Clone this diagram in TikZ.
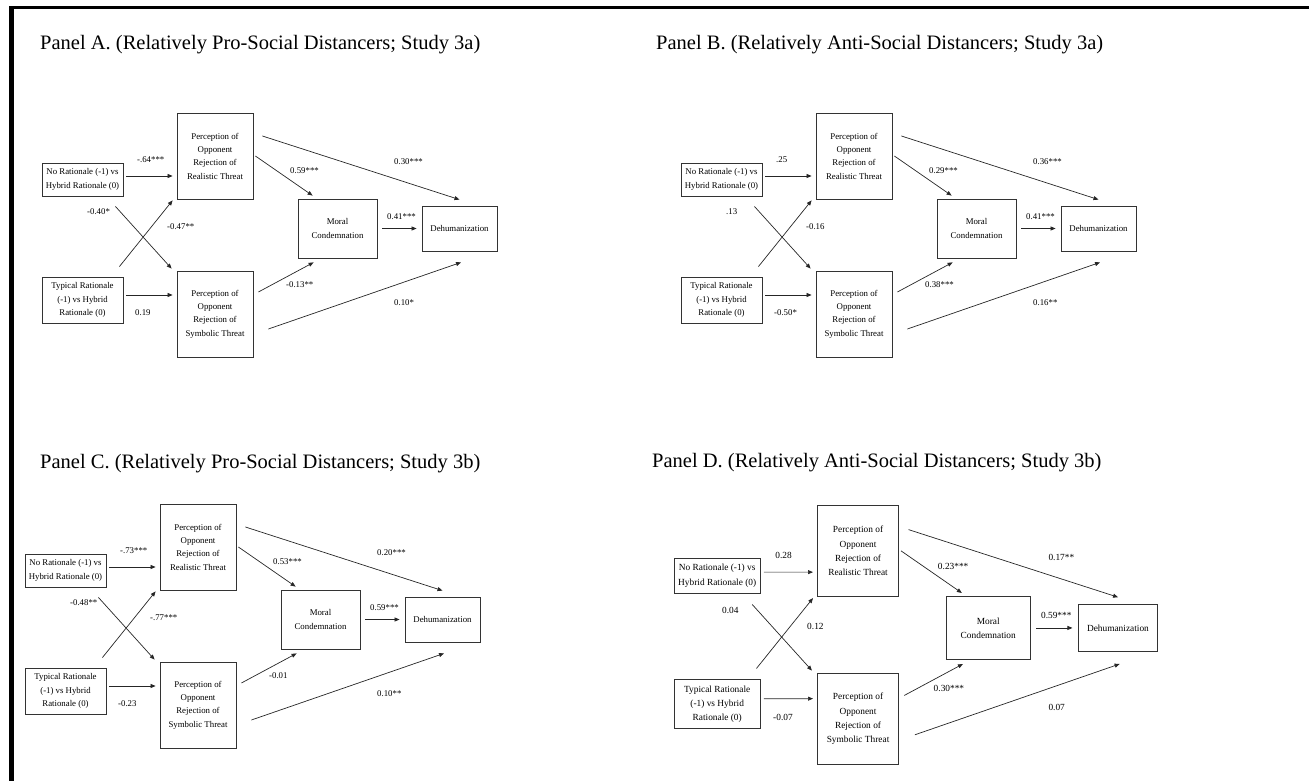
\documentclass[tikz,border=0pt]{standalone}
\usepackage{fontspec}
\setmainfont{Liberation Serif}
\usetikzlibrary{arrows.meta}
\tikzset{
  box/.style={draw=black!80, line width=0.8pt, inner sep=0pt, align=center,
    font=\fontsize{8.8}{13.3}\selectfont},
  lab/.style={anchor=west, inner sep=0pt, font=\fontsize{8.8}{10}\selectfont},
  arr/.style={draw=black!85, line width=0.7pt, -{Triangle[length=5pt,width=4pt]}},
  ttl/.style={anchor=base west, inner sep=0pt, font=\fontsize{20.5}{24}\selectfont}
}
\newcommand\mypanel[9]{%
  \node[box, minimum width=81pt, minimum height=33pt] (\pf-no) at (82.5,179.5) {No Rationale (-1) vs\\Hybrid Rationale (0)};
  \node[box, minimum width=81pt, minimum height=46pt] (\pf-ty) at (82.5,300) {Typical Rationale\\(-1) vs Hybrid\\Rationale (0)};
  \node[box, minimum width=76pt, minimum height=86pt] (\pf-re) at (215,156) {Perception of\\Opponent\\Rejection of\\Realistic Threat};
  \node[box, minimum width=76pt, minimum height=86pt] (\pf-sy) at (215,314) {Perception of\\Opponent\\Rejection of\\Symbolic Threat};
  \node[box, minimum width=79pt, minimum height=59pt] (\pf-mo) at (337.5,228.5) {Moral\\Condemnation};
  \node[box, minimum width=75pt, minimum height=45pt] (\pf-de) at (459.5,228.5) {Dehumanization};
  % connectors
  \draw[arr] ([xshift=3pt,yshift=3.5pt]\pf-no.east) -- ([xshift=-4pt,yshift=-20pt]\pf-re.west);
  \draw[arr] ([xshift=3pt,yshift=5pt]\pf-ty.east) -- ([xshift=-4pt,yshift=19pt]\pf-sy.west);
  \draw[arr] ([xshift=-8pt,yshift=-10pt]\pf-no.south east) -- ([xshift=-5pt,yshift=2pt]\pf-sy.north west);
  \draw[arr] ([xshift=-4pt,yshift=10pt]\pf-ty.north east) -- ([xshift=-4pt,yshift=-1pt]\pf-re.south west);
  \draw[arr] ([xshift=2pt]\pf-re.east) -- ([xshift=15pt,yshift=3pt]\pf-mo.north west);
  \draw[arr] ([xshift=9pt,yshift=20pt]\pf-re.east) -- ([yshift=6pt]\pf-de.north);
  \draw[arr] ([xshift=5pt,yshift=22pt]\pf-sy.east) -- ([xshift=16pt,yshift=-4pt]\pf-mo.south west);
  \draw[arr] ([xshift=15pt,yshift=-15pt]\pf-sy.east) -- ([xshift=1.5pt,yshift=-11pt]\pf-de.south);
  \draw[arr] ([xshift=5pt]\pf-mo.east) -- ([xshift=-5pt]\pf-de.west);
  % labels
  \node[lab] (\pf-l1) at (137,160) {#1};
  \node[lab] (\pf-l2) at (135,313) {#2};
  \node[lab] (\pf-l3) at (87,212) {#3};
  \node[lab] (\pf-l4) at (167,227) {#4};
  \node[lab] (\pf-l5) at (290,171) {#5};
  \node[lab] (\pf-l6) at (394,162) {#6};
  \node[lab] (\pf-l7) at (286,285) {#7};
  \node[lab] (\pf-l8) at (394,303) {#8};
  \node[lab] (\pf-l9) at (387,217) {#9};
}
\begin{document}
\begin{tikzpicture}[x=1pt, y=-1pt]
  \useasboundingbox (0,0) rectangle (1309,781);
  % frame
  \fill[black] (9,6) rectangle (1309,9.5);
  \fill[black] (9,6) rectangle (14,781);
  % titles
  \node[ttl] (tA) at (40,50) {Panel A. (Relatively Pro-Social Distancers; Study 3a)};
  \node[ttl] (tB) at (656,50) {Panel B. (Relatively Anti-Social Distancers; Study 3a)};
  \node[ttl] (tC) at (40,468) {Panel C. (Relatively Pro-Social Distancers; Study 3b)};
  \node[ttl] (tD) at (652,467) {Panel D. (Relatively Anti-Social Distancers; Study 3b)};
  % panels
  \begin{scope}
    \def\pf{A}
    \mypanel{-.64***}{0.19}{-0.40*}{-0.47**}{0.59***}{0.30***}{-0.13**}{0.10*}{0.41***}
  \end{scope}
  \begin{scope}[shift={(639,0)}]
    \def\pf{B}
    \mypanel{.25}{-0.50*}{.13}{-0.16}{0.29***}{0.36***}{0.38***}{0.16**}{0.41***}
  \end{scope}
  \begin{scope}[shift={(-17,391)}]
    \def\pf{C}
    \mypanel{-.73***}{-0.23}{-0.48**}{-.77***}{0.53***}{0.20***}{-0.01}{0.10**}{0.59***}
  \end{scope}
  \begin{scope}[shift={(629.5,385)}, scale=1.063, transform shape]
    \def\pf{D}
    \mypanel{0.28}{-0.07}{0.04}{0.12}{0.23***}{0.17**}{0.30***}{0.07}{0.59***}
  \end{scope}
\end{tikzpicture}
\end{document}
